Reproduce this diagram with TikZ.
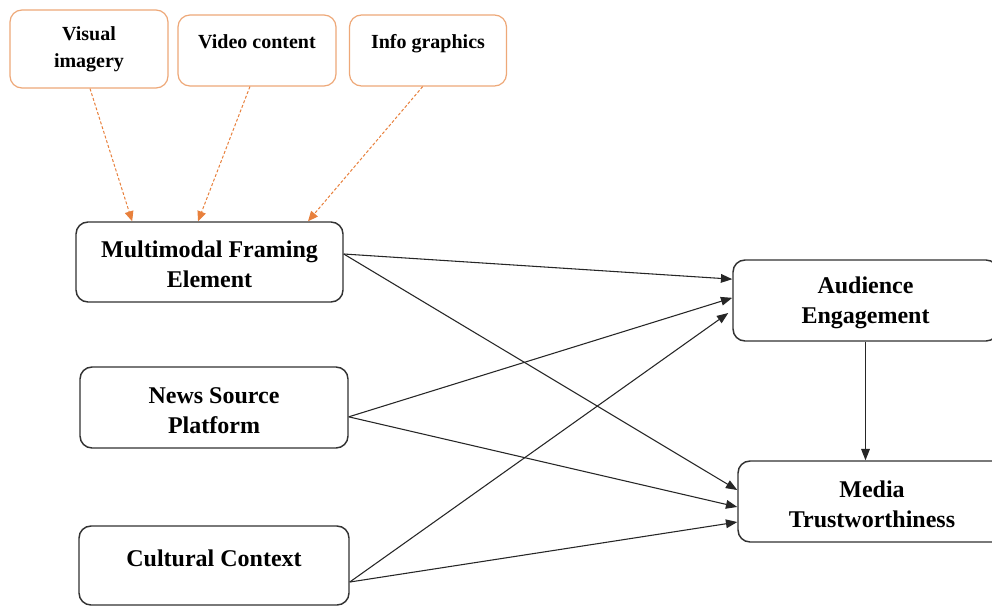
\documentclass[tikz,border=0pt]{standalone}
\usepackage{fontspec}
\setmainfont{Liberation Serif}
\usetikzlibrary{arrows.meta,calc}
\definecolor{boxline}{RGB}{50,50,50}
\definecolor{orgline}{RGB}{238,168,120}
\definecolor{orgarrow}{RGB}{232,128,60}
\newcommand{\topstrut}{\rule{0pt}{16pt}}
\begin{document}
\begin{tikzpicture}[x=0.75pt,y=-0.75pt,
 mainbox/.style={draw=boxline, line width=1.1pt, rounded corners=9pt, fill=white, align=center, font=\fontsize{18}{22.5}\selectfont\bfseries, inner sep=0pt},
 topbox/.style={draw=orgline, line width=0.9pt, rounded corners=9pt, fill=white, align=center, font=\fontsize{15}{20}\selectfont\bfseries, inner sep=0pt},
 link/.style={draw=black!85, line width=0.8pt, -{Triangle[length=8.5pt,width=6.5pt]}},
 dlink/.style={draw=orgarrow, line width=0.75pt, dash pattern=on 2.2pt off 1.5pt, -{Triangle[length=7.5pt,width=6.5pt]}}]
\useasboundingbox (0,0) rectangle (992,606);
\clip (0,0) rectangle (992,606);
\fill[white] (0,0) rectangle (992,606);

% top boxes
\node[topbox, minimum width=118.5pt, minimum height=58.5pt] (vis) at (89,49) {Visual\\imagery};
\node[topbox, minimum width=118.5pt, minimum height=53.25pt, text depth=14pt] (vid) at (257,50.5) {Video content};
\node[topbox, minimum width=117.75pt, minimum height=53.25pt, text depth=14pt] (inf) at (428,50.5) {Info graphics};

% left boxes
\node[mainbox, minimum width=200.25pt, minimum height=60pt] (mm) at (209.5,262) {\topstrut Multimodal Framing\\Element};
\node[mainbox, minimum width=201pt, minimum height=60.75pt] (ns) at (214,407.5) {\topstrut News Source\\Platform};
\node[mainbox, minimum width=202.5pt, minimum height=59.25pt, text depth=10.7pt] (cc) at (214,565.5) {Cultural Context};

% right boxes
\node[mainbox, minimum width=198.75pt, minimum height=60.75pt] (ae) at (865.5,300.5) {\topstrut Audience\\Engagement};
\node[mainbox, minimum width=201pt, minimum height=60.75pt] (mt) at (872,501.5) {\topstrut Media\\Trustworthiness};

% dashed orange arrows
\draw[dlink] ([xshift=0.75pt]vis.south) -- ([xshift=-58pt]mm.north);
\draw[dlink] ([xshift=-5.3pt]vid.south) -- ([xshift=-8.6pt]mm.north);
\draw[dlink] ([xshift=-4pt]inf.south) -- ([xshift=73.9pt]mm.north);

% black arrows
\draw[link] ([yshift=6pt]mm.east) -- ([yshift=16pt]ae.west);
\draw[link] ([yshift=6pt]mm.east) -- ([yshift=8.6pt]mt.west);
\draw[link] ([yshift=-7pt]ns.east) -- ([yshift=2pt]ae.west);
\draw[link] ([yshift=-7pt]ns.east) -- ([yshift=-4.1pt]mt.west);
\draw[link] ([yshift=-12.4pt]cc.east) -- ([yshift=-9.4pt,xshift=-3pt]ae.west);
\draw[link] ([yshift=-12.4pt]cc.east) -- ([yshift=-15.4pt]mt.west);
\draw[link] (ae.south) -- (ae.south |- mt.north);
\end{tikzpicture}
\end{document}
